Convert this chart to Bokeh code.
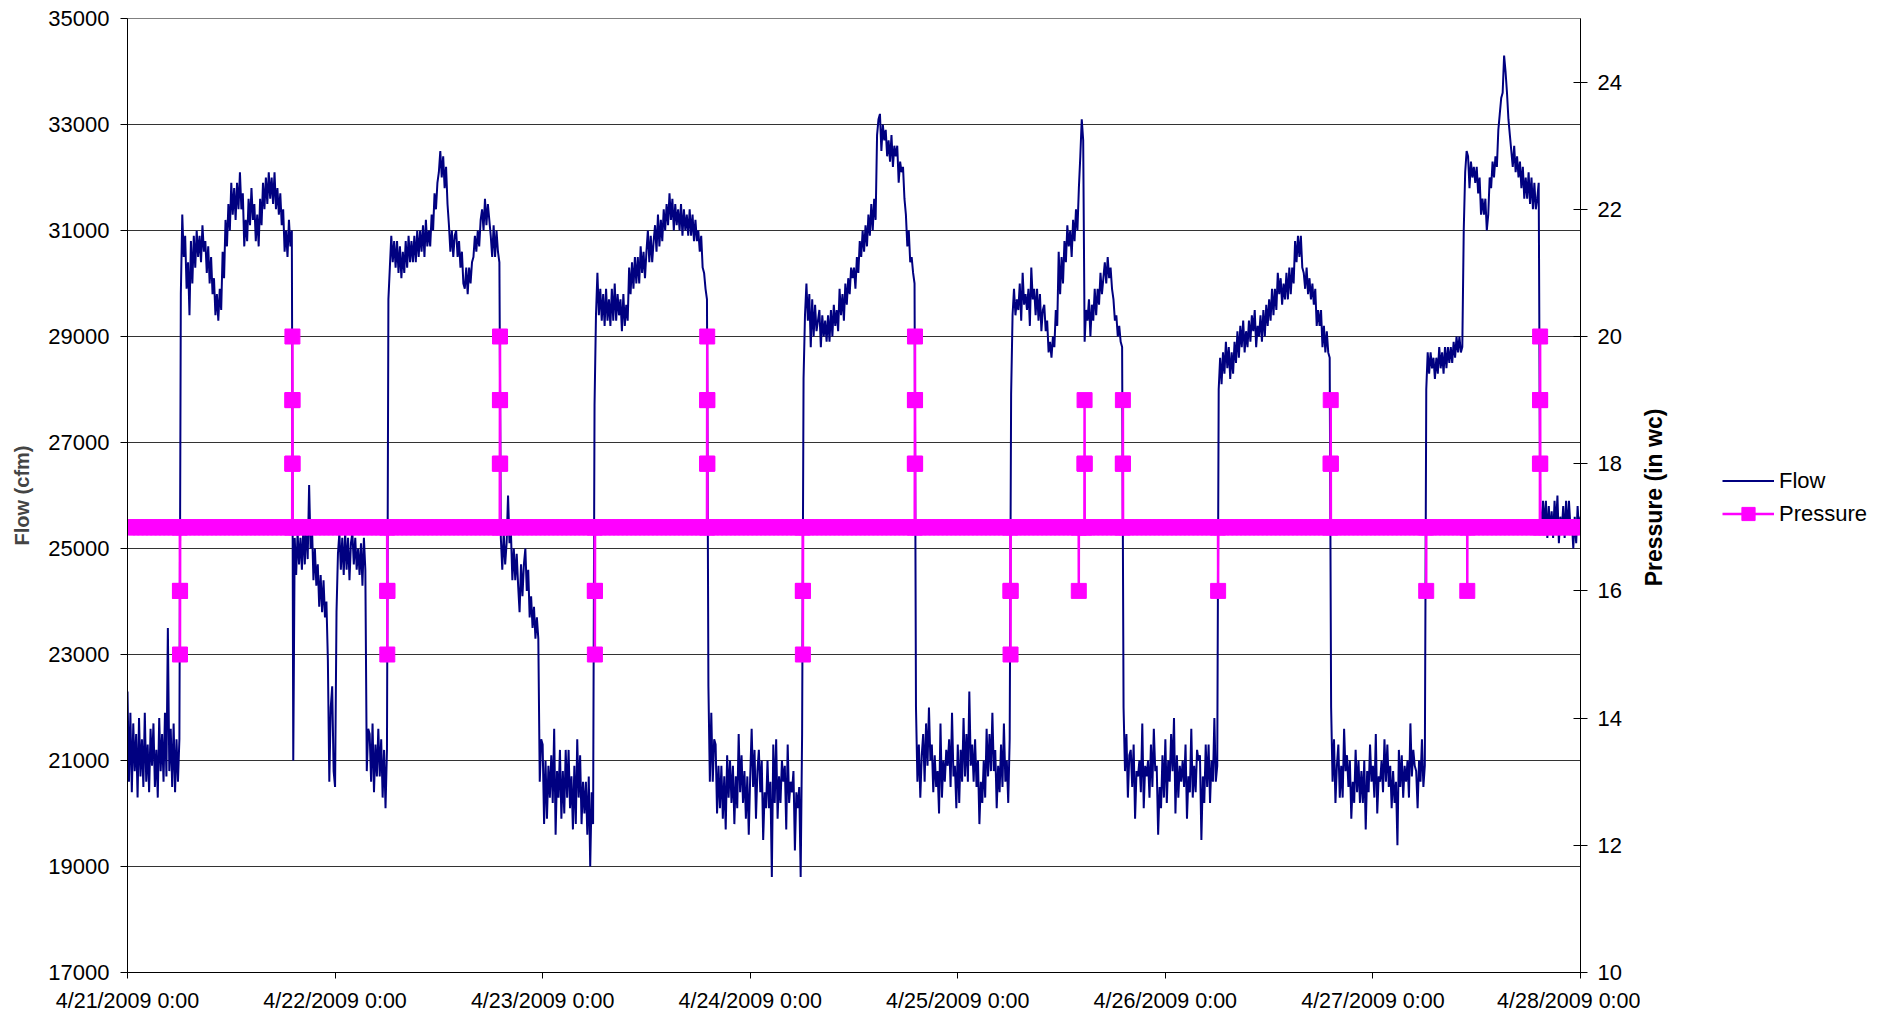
from math import pi
from bokeh.plotting import figure
from bokeh.layouts import row
from bokeh.core.properties import value
from bokeh.models import Range1d, LinearAxis, FixedTicker, Legend, LegendItem
from bokeh.embed import file_html
from bokeh.resources import INLINE

FONT = "Liberation Sans"

# ---------------- data ----------------
x_tick_hours = [0, 24, 48, 72, 96, 120, 144, 168]
x_tick_labels = ["4/21/2009 0:00", "4/22/2009 0:00", "4/23/2009 0:00", "4/24/2009 0:00",
                 "4/25/2009 0:00", "4/26/2009 0:00", "4/27/2009 0:00", "4/28/2009 0:00"]
flow_ticks = [17000, 19000, 21000, 23000, 25000, 27000, 29000, 31000, 33000, 35000]
press_ticks = [10, 12, 14, 16, 18, 20, 22, 24]

flow_step_hours = 10 / 60  # one reading every 10 minutes (6 per row = 1 hour)

# Flow (cfm) 4/21
flow_d1 = [
    22300, 20600, 21900, 20400, 21700, 20800,
    21500, 20300, 21800, 20700, 21400, 20500,
    21900, 20600, 21300, 20400, 21600, 20900,
    21700, 20500, 21200, 20300, 21800, 20800,
    21500, 20600, 21900, 20700, 23500, 20800,
    21600, 20500, 21700, 20400, 21400, 20600,
    21400, 29800, 31300, 30500, 30900, 29900,
    30400, 29400, 30800, 30000, 30900, 30300,
    31000, 30500, 30900, 30400, 31100, 30600,
    30800, 30200, 30700, 30000, 30500, 29800,
    30100, 29400, 29800, 29300, 29900, 29500,
    30600, 30100, 31200, 30700, 31500, 31000,
    31900, 31300, 31800, 31200, 31900, 31400,
    32100, 31400, 31700, 30700, 31200, 30800,
    31600, 31100, 31800, 31200, 31500, 30800,
    31300, 30700, 31600, 31100, 31900, 31400,
    32000, 31500, 32100, 31600, 32000, 31500,
    32100, 31400, 31800, 31300, 31700, 31100,
    31400, 30600, 31000, 30500, 31200, 30700,
    31000, 21000, 25200, 24500, 25300, 24700,
    25200, 24600, 25400, 24700, 25500, 24800,
    26200, 25000, 25400, 24400, 25000, 24300,
    24700, 23900, 24500, 23800, 24400, 23700,
    24000, 22900, 20600, 22000, 22400, 20800]
# 4/22
flow_d2 = [
    20500, 23800, 24900, 25300, 24600, 25200,
    24500, 25300, 24600, 25200, 24400, 25100,
    25300, 24700, 25200, 24600, 25000, 24500,
    25100, 24300, 25200, 24600, 20800, 21600,
    21500, 20600, 21700, 20400, 21300, 20700,
    21600, 20700, 21400, 20300, 21200, 20100,
    21200, 29700, 30300, 30900, 30400, 30800,
    30300, 30800, 30200, 30700, 30100, 30600,
    30200, 30800, 30300, 30900, 30400, 30800,
    30400, 30900, 30400, 31000, 30500, 31000,
    30600, 31100, 30500, 31200, 30700, 31000,
    30700, 31300, 31000, 31700, 31400, 31900,
    32100, 32500, 32000, 32400, 31800, 32200,
    31500, 31100, 30600, 31000, 30500, 30900,
    31000, 30500, 30800, 30300, 30600, 30000,
    29900, 30300, 29800, 30300, 30000, 30400,
    30500, 30900, 30600, 31000, 30700, 31200,
    31400, 31000, 31600, 31100, 31500, 31200,
    30900, 30500, 31100, 30500, 31000, 30600,
    30400, 25200, 24600, 25300, 24700, 25100,
    26000, 25100, 25300, 24400, 25000, 24400,
    24900, 24300, 23800, 24700, 24100, 24700,
    25000, 24200, 24600, 23700, 24100, 23500,
    23900, 23300, 23700, 23300, 20600, 21400]
# 4/23
flow_d3 = [
    21300, 19800, 21000, 19900, 20900, 20300,
    21100, 20200, 21600, 19600, 20800, 20300,
    21200, 19900, 20800, 20000, 21200, 20300,
    21200, 20100, 20700, 19700, 20900, 19800,
    21400, 20300, 21100, 19800, 20600, 20000,
    20600, 19600, 20700, 19000, 20400, 19800,
    27700, 29400, 30200, 29400, 29900, 29300,
    29800, 29200, 29900, 29300, 29700, 29200,
    29900, 29300, 30000, 29300, 29800, 29400,
    29700, 29100, 29800, 29200, 29600, 29300,
    30300, 29800, 30400, 29900, 30500, 30000,
    30500, 30000, 30700, 30200, 30600, 30100,
    30600, 31000, 30400, 30900, 30400, 30800,
    31100, 30600, 31300, 30700, 31200, 30800,
    31400, 31000, 31500, 31100, 31700, 31200,
    31600, 31000, 31500, 31100, 31400, 31000,
    31500, 30900, 31400, 31000, 31300, 30900,
    31400, 30900, 31300, 30800, 31200, 30800,
    31000, 30600, 30900, 30300, 30200, 29900,
    29700, 22400, 20600, 21900, 20600, 21400,
    21300, 20000, 20900, 20100, 20900, 19900,
    20700, 19700, 21100, 20300, 21000, 20200,
    20900, 19800, 20700, 20100, 21500, 20400,
    21100, 20200, 20800, 19900, 20700, 19600]
# 4/24
flow_d4 = [
    20700, 21600, 20500, 21200, 19900, 20800,
    21200, 20400, 21000, 19500, 20400, 20100,
    21000, 20100, 20600, 18800, 21300, 20200,
    21400, 19900, 20700, 20200, 21000, 20600,
    20900, 19700, 21300, 20200, 20600, 20400,
    20800, 19300, 20400, 20100, 20500, 18800,
    21500, 28200, 29400, 30000, 29300, 29800,
    28800, 29700, 29000, 29600, 29100, 29300,
    29500, 28800, 29400, 29000, 29300, 28900,
    29400, 28900, 29500, 29000, 29600, 29200,
    29500, 29100, 29900, 29400, 29800, 29300,
    30000, 29600, 30100, 29800, 30300, 30100,
    30300, 29900, 30500, 30200, 30800, 30500,
    31000, 30600, 31100, 30700, 31300, 30900,
    31500, 31000, 31600, 31200, 32800, 33100,
    33200, 32500, 33000, 32700, 32900, 32400,
    32700, 32300, 32800, 32200, 32600, 32400,
    32600, 31900, 32300, 32100, 32200, 31600,
    31300, 30700, 31000, 30400, 30500, 30200,
    30000, 22000, 20600, 21300, 20300, 21100,
    21500, 20600, 21700, 20900, 22000, 21000,
    21300, 20400, 21100, 20500, 20800, 20000,
    21700, 20300, 21000, 20600, 21200, 20900,
    21400, 20500, 21900, 20700, 20900, 20100]
# 4/25
flow_d5 = [
    21300, 20200, 21200, 20600, 21800, 20700,
    21500, 20600, 22300, 20900, 21300, 20600,
    21400, 20500, 21000, 19800, 20600, 20200,
    21000, 20300, 21600, 20700, 21500, 20800,
    21900, 20800, 21200, 20100, 20900, 20400,
    21300, 20500, 21700, 20600, 21000, 20200,
    21400, 27900, 29400, 29900, 29400, 29700,
    29500, 30000, 29300, 30200, 29600, 29800,
    29500, 29900, 29200, 30300, 29700, 29900,
    29400, 29900, 29300, 29800, 29100, 29500,
    29600, 29100, 29300, 28700, 28900, 28600,
    29000, 28800, 29500, 29200, 30600, 29800,
    30500, 30000, 30800, 30400, 31100, 30700,
    31000, 30500, 31200, 30800, 31400, 31000,
    31800, 32400, 33100, 32700, 28900, 29500,
    29300, 29700, 29000, 29600, 29300, 29900,
    29400, 29900, 29600, 30200, 29800, 30100,
    30400, 30000, 30500, 30100, 30300, 29900,
    29700, 29300, 29400, 29000, 29200, 28900,
    28800, 22000, 20800, 21500, 20300, 21100,
    21200, 20500, 21300, 19900, 20800, 20700,
    21000, 20400, 21700, 20100, 20900, 20700,
    21000, 20300, 21300, 20500, 21600, 20800,
    20900, 19600, 20500, 20100, 21100, 20300]
# 4/26
flow_d6 = [
    21400, 20200, 21000, 20600, 21500, 20800,
    21800, 20000, 21100, 20300, 20900, 20600,
    21000, 20500, 21300, 19900, 20700, 20400,
    21600, 20300, 20900, 20400, 21200, 21000,
    21100, 19500, 20700, 20200, 21300, 20500,
    21300, 20200, 21000, 20600, 21800, 20600,
    20900, 28000, 28600, 28100, 28700, 28300,
    28900, 28400, 28800, 28200, 28700, 28300,
    28900, 28500, 29100, 28600, 29200, 28800,
    29300, 28700, 29100, 28800, 29300, 28900,
    29400, 29100, 29500, 28800, 29200, 29000,
    29400, 28900, 29500, 29000, 29600, 29200,
    29700, 29300, 29900, 29400, 29900, 29500,
    30200, 29800, 30100, 29600, 30000, 29700,
    30200, 29700, 30300, 29800, 30300, 30000,
    30800, 30400, 30900, 30500, 30900, 30300,
    30200, 29900, 30300, 29800, 30100, 29700,
    30000, 29600, 29900, 29200, 29500, 29200,
    29500, 28800, 29200, 28700, 29100, 28700,
    28600, 22000, 20600, 21400, 20200, 20900,
    21300, 20300, 20900, 20300, 21600, 20800,
    21100, 20500, 21000, 19900, 20600, 20200,
    21200, 20400, 21000, 20200, 20800, 20200,
    21000, 19700, 20800, 20400, 21300, 20600]
# 4/27
flow_d7 = [
    20900, 20300, 21500, 20000, 20700, 20600,
    21000, 20400, 21400, 20600, 21300, 20500,
    20900, 20100, 20800, 20200, 20600, 19400,
    21200, 20500, 21100, 20300, 20900, 20600,
    21000, 20300, 21700, 20700, 21200, 20900,
    20800, 20100, 21000, 20600, 21400, 20500,
    20900, 28000, 28700, 28300, 28700, 28400,
    28600, 28200, 28600, 28300, 28800, 28400,
    28700, 28300, 28800, 28400, 28800, 28500,
    28800, 28500, 28900, 28600, 29000, 28700,
    29000, 28700, 28800, 31000, 32100, 32500,
    32400, 31800, 32300, 32000, 32200, 31900,
    32200, 31700, 32000, 31300, 31600, 31300,
    31600, 31000, 31300, 32000, 31800, 32300,
    32000, 32400, 32200, 32900, 33200, 33500,
    33600, 34300, 34000, 33600, 33100, 32800,
    32500, 32200, 32600, 32100, 32400, 32000,
    32300, 31800, 32200, 31600, 32000, 31600,
    32100, 31500, 32000, 31400, 31900, 31400,
    31600, 31900, 25800, 25300, 25900, 25400,
    25900, 25200, 25800, 25300, 25700, 25200,
    25900, 25400, 26000, 25100, 25600, 25300,
    25800, 25200, 25900, 25300, 25900, 25400,
    25500, 25000, 25600, 25100, 25800, 25300]
# 4/28 0:00
flow_end = [25600]

# Pressure (in wc): steady 17, with short excursions at these times (hours from 4/21 0:00)
press_base = 17
press_base_step_hours = 0.5
press_event_hours = [6.05, 19.04, 30.02, 43.04, 54.02, 67.0, 78.07, 91.02, 102.08,
                     109.98, 110.64, 115.07, 126.09, 139.1, 150.15, 154.9, 163.3]
press_event_levels = [[16, 15, 16], [18, 19, 20, 19, 18], [16, 15, 16], [18, 19, 20, 19, 18],
                      [16, 15, 16], [18, 19, 20, 19, 18], [16, 15, 16], [18, 19, 20, 19, 18],
                      [16, 15, 16], [16], [18, 19, 18], [18, 19, 18], [16], [18, 19, 18],
                      [16], [16], [18, 19, 20, 19, 18]]

# ---------------- series assembly ----------------
flow = flow_d1 + flow_d2 + flow_d3 + flow_d4 + flow_d5 + flow_d6 + flow_d7 + flow_end
flow_hours = [i * flow_step_hours for i in range(len(flow))]

n_base = int(168 / press_base_step_hours) + 1
press_pts = [(i * press_base_step_hours, press_base) for i in range(n_base)]
for t, seq in zip(press_event_hours, press_event_levels):
    press_pts.append((t, press_base))
    for k, v in enumerate(seq):
        press_pts.append((t + 0.01 * (k + 1), v))
    press_pts.append((t + 0.01 * (len(seq) + 1), press_base))
press_pts.sort(key=lambda q: q[0])
press_hours = [q[0] for q in press_pts]
press_vals = [q[1] for q in press_pts]

FLOW_COLOR = "#000080"
PRESS_COLOR = "#FF00FF"
FRAME_TOP, FRAME_H = 18, 954
FRAME_BOTTOM = FRAME_TOP + FRAME_H

# ---------------- main chart ----------------
p = figure(frame_width=1453, frame_height=FRAME_H,
           x_range=Range1d(0, 168), y_range=Range1d(17000, 35000),
           output_backend="svg", toolbar_location=None,
           min_border_left=127, min_border_top=FRAME_TOP, min_border_right=60, min_border_bottom=10)
p.extra_y_ranges = {"press": Range1d(10, 25)}
p.background_fill_color = "white"
p.border_fill_color = "white"
p.outline_line_color = "#808080"
p.outline_line_width = 1

p.xgrid.visible = False
p.ygrid.ticker = FixedTicker(ticks=flow_ticks)
p.ygrid.grid_line_color = "#333333"
p.ygrid.grid_line_width = 1

p.line(flow_hours, flow, line_color=FLOW_COLOR, line_width=2)
p.line(press_hours, press_vals, y_range_name="press", line_color=PRESS_COLOR, line_width=2.5)
p.scatter(press_hours, press_vals, y_range_name="press", marker="square", size=15,
          fill_color=PRESS_COLOR, line_color=PRESS_COLOR)

ax = p.xaxis[0]
ax.ticker = FixedTicker(ticks=x_tick_hours)
ax.major_label_overrides = {h: lab for h, lab in zip(x_tick_hours, x_tick_labels)}
ax.major_tick_out = 6
ax.major_tick_in = 0
ax.minor_tick_out = 0
ax.minor_tick_in = 0
ax.major_label_standoff = 10
ax.major_label_text_font = FONT
ax.major_label_text_font_size = "21.5px"
ax.major_label_text_color = "black"
ax.axis_line_color = "black"
ax.major_tick_line_color = "black"

ay = p.yaxis[0]
ay.ticker = FixedTicker(ticks=flow_ticks)
ay.axis_label = "Flow (cfm)"
ay.axis_label_text_font = FONT
ay.axis_label_text_font_style = "bold"
ay.axis_label_text_font_size = "20px"
ay.axis_label_standoff = 12
ay.major_tick_out = 7
ay.major_tick_in = 0
ay.minor_tick_out = 0
ay.minor_tick_in = 0
ay.major_label_standoff = 11
ay.major_label_text_font = FONT
ay.major_label_text_font_size = "22px"
ay.major_label_text_color = "black"
ay.axis_line_color = "black"

ar = LinearAxis(y_range_name="press", ticker=FixedTicker(ticks=press_ticks))
ar.major_tick_out = 7
ar.major_tick_in = 7
ar.minor_tick_out = 0
ar.minor_tick_in = 0
ar.major_label_standoff = 10
ar.major_label_text_font = FONT
ar.major_label_text_font_size = "22px"
ar.major_label_text_color = "black"
ar.axis_line_color = "black"
p.add_layout(ar, "right")

# ---------------- right-hand strip: pressure title and legend ----------------
# its frame lines up with the chart frame; y is measured in page pixels from the top
SIDE_W = 246
side = figure(frame_width=SIDE_W, frame_height=FRAME_H,
              x_range=Range1d(0, SIDE_W), y_range=Range1d(FRAME_BOTTOM, FRAME_TOP),
              output_backend="svg", toolbar_location=None, x_axis_location=None, y_axis_location=None,
              min_border_left=0, min_border_right=0, min_border_top=FRAME_TOP, min_border_bottom=10)
side.outline_line_color = None
side.xgrid.visible = False
side.ygrid.visible = False
side.background_fill_color = "white"
side.border_fill_color = "white"

side.text(x=[13], y=[497], text=["Pressure (in wc)"], angle=pi / 2,
          text_align="center", text_baseline="middle", text_font=value(FONT),
          text_font_style="bold", text_font_size="23px", text_color="black")

# legend swatches (styled like the series in the chart; no visible points)
nan = float("nan")
lf = side.line([nan], [nan], line_color=FLOW_COLOR, line_width=2)
lp = side.line([nan], [nan], line_color=PRESS_COLOR, line_width=2.5)
lm = side.scatter([nan], [nan], marker="square", size=15, fill_color=PRESS_COLOR, line_color=PRESS_COLOR)

legend = Legend(items=[LegendItem(label="Flow", renderers=[lf]),
                       LegendItem(label="Pressure", renderers=[lp, lm])],
                location=(82, FRAME_BOTTOM - 530), orientation="vertical",
                glyph_width=52, glyph_height=33, spacing=0, padding=0, margin=0,
                label_standoff=5, label_text_font=FONT, label_text_font_size="22px",
                label_text_color="black", border_line_color=None, background_fill_alpha=0)
side.add_layout(legend)

layout = row(p, side, spacing=0)
open("out.html", "w").write(file_html(layout, INLINE))
